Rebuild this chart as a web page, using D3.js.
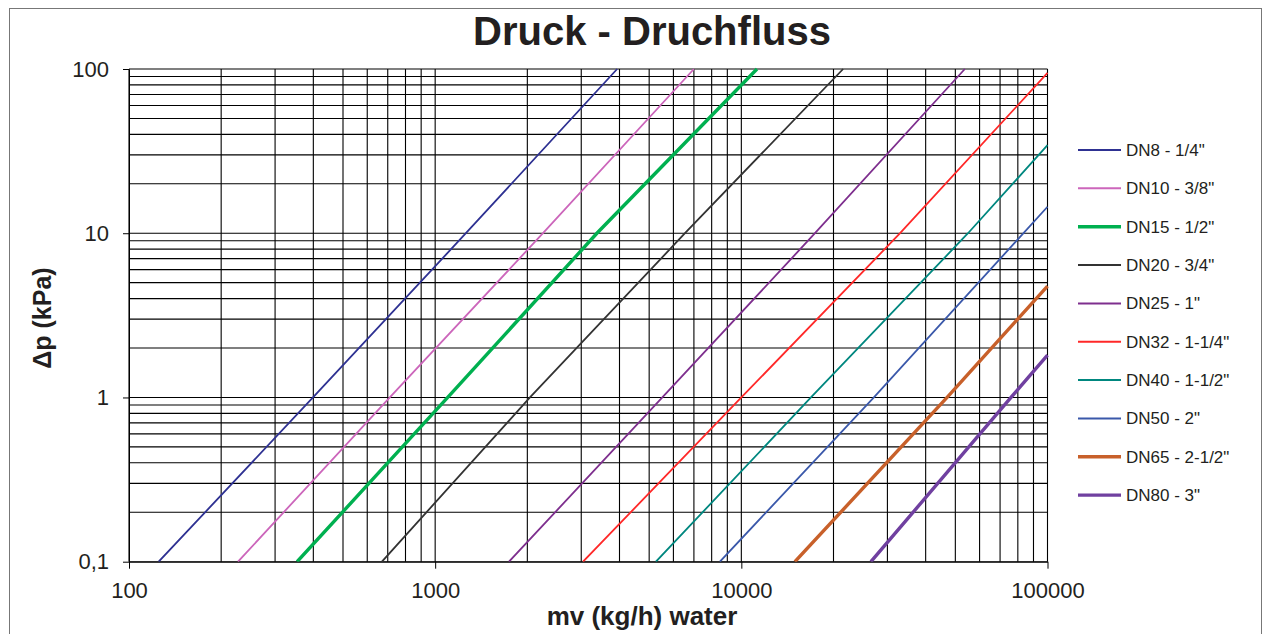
<!DOCTYPE html>
<html><head><meta charset="utf-8">
<script src="https://cdn.jsdelivr.net/npm/d3@7"></script>
<style>body{margin:0;background:#fff}svg{display:block;font-family:"Liberation Sans",Arial,sans-serif}</style>
</head><body><svg id="c" width="1263" height="634"></svg>
<script>
const title = "Druck - Druchfluss";
const xTitle = "mv (kg/h) water";
const yTitle = "Δp (kPa)";
const xTickValues = [100, 1000, 10000, 100000];
const xTickLabels = ["100", "1000", "10000", "100000"];
const yTickValues = [0.1, 1, 10, 100];
const yTickLabels = ["0,1", "1", "10", "100"];

const seriesNames = ['DN8 - 1/4"', 'DN10 - 3/8"', 'DN15 - 1/2"', 'DN20 - 3/4"', 'DN25 - 1"',
  'DN32 - 1-1/4"', 'DN40 - 1-1/2"', 'DN50 - 2"', 'DN65 - 2-1/2"', 'DN80 - 3"'];
const mvDN8  = [125, 399, 1260, 3930];     const dpDN8  = [0.1, 1, 10, 100];
const mvDN10 = [227, 711, 2250, 7000];     const dpDN10 = [0.1, 1, 10, 100];
const mvDN15 = [354, 1099, 3375, 11250];   const dpDN15 = [0.1, 1, 10, 100];
const mvDN20 = [670, 2040, 6545, 21500];   const dpDN20 = [0.1, 1, 10, 100];
const mvDN25 = [1742, 5520, 17400, 53700]; const dpDN25 = [0.1, 1, 10, 100];
const mvDN32 = [3040, 10000, 33000, 100000]; const dpDN32 = [0.1, 1, 10, 94.6];
const mvDN40 = [5260, 16880, 55000, 100000]; const dpDN40 = [0.1, 1, 10, 34.4];
const mvDN50 = [8510, 27100, 100000];      const dpDN50 = [0.1, 1, 14.5];
const mvDN65 = [14960, 47000, 100000];     const dpDN65 = [0.1, 1, 4.77];
const mvDN80 = [26500, 76000, 100000];     const dpDN80 = [0.1, 1, 1.81];

const seriesMv = [mvDN8, mvDN10, mvDN15, mvDN20, mvDN25, mvDN32, mvDN40, mvDN50, mvDN65, mvDN80];
const seriesDp = [dpDN8, dpDN10, dpDN15, dpDN20, dpDN25, dpDN32, dpDN40, dpDN50, dpDN65, dpDN80];
const seriesColors = ['#2E3192', '#CC66BB', '#00B050', '#333333', '#7E2F8E', '#FF2828', '#00877F', '#3A58AA', '#C8602A', '#7040A0'];
const seriesWidths = [1.8, 1.8, 3.4, 1.8, 1.8, 1.8, 1.8, 1.8, 3.4, 3.4];

const svg = d3.select("#c");
const L = 129, R = 1047.5, T = 69, B = 561.7;
const x = d3.scaleLog().domain([100, 100000]).range([L, R]);
const y = d3.scaleLog().domain([0.1, 100]).range([B, T]);

// outer frame
svg.append("rect").attr("x", 9.5).attr("y", 8.5).attr("width", 1252).attr("height", 640)
  .attr("fill", "none").attr("stroke", "#777").attr("stroke-width", 1);

// title
svg.append("text").attr("x", 652).attr("y", 45).attr("text-anchor", "middle")
  .attr("font-size", 40).attr("font-weight", "bold").attr("fill", "#231f20").text(title);

// gridlines
const xGrid = [], yGrid = [];
for (let e = 2; e < 5; e++) for (let k = 1; k <= 9; k++) xGrid.push(k * Math.pow(10, e));
xGrid.push(100000);
for (let e = -1; e < 2; e++) for (let k = 1; k <= 9; k++) yGrid.push(+(k * Math.pow(10, e)).toPrecision(3));
yGrid.push(100);
const g = svg.append("g");
g.selectAll(".vg").data(xGrid).join("line")
  .attr("x1", d => x(d)).attr("x2", d => x(d)).attr("y1", T).attr("y2", B)
  .attr("stroke", "#000").attr("stroke-width", 1.1);
g.selectAll(".hg").data(yGrid).join("line")
  .attr("x1", L).attr("x2", R).attr("y1", d => y(d)).attr("y2", d => y(d))
  .attr("stroke", "#000").attr("stroke-width", 1.1);

// axes
const xAxis = d3.axisBottom(x).tickValues(xTickValues).tickFormat((d, i) => xTickLabels[i]).tickSizeInner(7).tickSizeOuter(0).tickPadding(6);
const yAxis = d3.axisLeft(y).tickValues(yTickValues).tickFormat((d, i) => yTickLabels[i]).tickSizeInner(6).tickSizeOuter(0).tickPadding(14);
const gx = svg.append("g").attr("transform", `translate(0,${B})`).call(xAxis);
const gy = svg.append("g").attr("transform", `translate(${L},0)`).call(yAxis);
[gx, gy].forEach(a => {
  a.select(".domain").attr("stroke", "#000");
  a.selectAll(".tick line").attr("stroke", "#000");
  a.selectAll(".tick text").attr("font-size", 22).attr("fill", "#231f20")
    .attr("font-family", '"Liberation Sans",Arial,sans-serif');
});
gx.selectAll(".tick text").attr("dy", "0.71em").attr("y", 21);

// series
const clip = svg.append("clipPath").attr("id", "pc").append("rect")
  .attr("x", L).attr("y", T - 2).attr("width", R - L + 2).attr("height", B - T + 2);
const line = d3.line().x(d => x(d[0])).y(d => y(d[1]));
const lg = svg.append("g").attr("clip-path", "url(#pc)");
seriesNames.forEach((n, i) => {
  const pts = seriesMv[i].map((m, j) => [m, seriesDp[i][j]]);
  lg.append("path").attr("d", line(pts)).attr("fill", "none")
    .attr("stroke", seriesColors[i]).attr("stroke-width", seriesWidths[i]);
});

// axis titles
svg.append("text").attr("x", 642).attr("y", 625).attr("text-anchor", "middle")
  .attr("font-size", 26).attr("font-weight", "bold").attr("fill", "#231f20").text(xTitle);
svg.append("text").attr("transform", "translate(51,318) rotate(-90)").attr("text-anchor", "middle")
  .attr("font-size", 25).attr("font-weight", "bold").attr("fill", "#231f20").text(yTitle);

// legend
const leg = svg.append("g");
seriesNames.forEach((n, i) => {
  const yy = 150 + i * 38.35;
  leg.append("line").attr("x1", 1078).attr("x2", 1121).attr("y1", yy).attr("y2", yy)
    .attr("stroke", seriesColors[i]).attr("stroke-width", Math.max(2, seriesWidths[i]));
  leg.append("text").attr("x", 1126).attr("y", yy).attr("dy", "0.35em")
    .attr("font-size", 17).attr("fill", "#231f20").text(n);
});
</script></body></html>
